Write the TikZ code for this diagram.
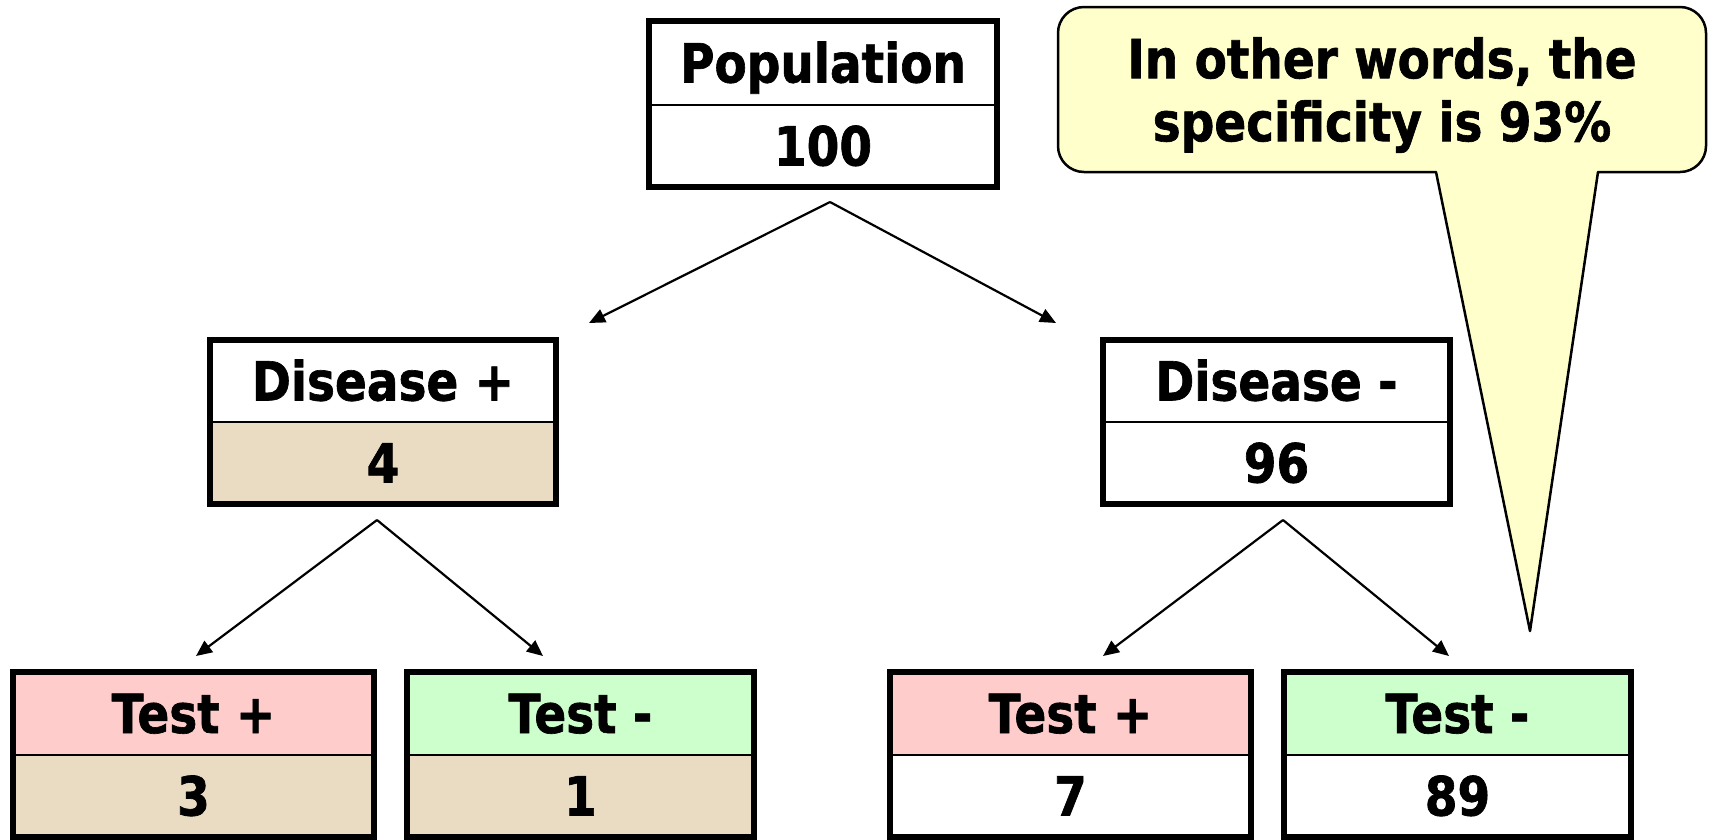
\documentclass[tikz,border=0pt]{standalone}
\usepackage{fontspec}
\newfontfamily\boxfont{DejaVu Sans}[FakeStretch=0.87, FakeBold=1.2]
\usetikzlibrary{arrows.meta}

\definecolor{tanfill}{HTML}{E9DCC3}
\definecolor{pinkfill}{HTML}{FFCCCC}
\definecolor{greenfill}{HTML}{CCFFCC}
\definecolor{notefill}{HTML}{FFFFCC}

\tikzset{
  cell/.style={draw=black, line width=2pt, inner sep=0pt, outer sep=0pt,
    text height=39pt, text depth=0pt,
    font=\boxfont\bfseries\fontsize{54}{63}\selectfont},
  frame/.style={draw=black, line width=5.5pt},
  link/.style={draw=black, line width=2.2pt,
    -{Triangle[length=16pt,width=14pt]}},
  note/.style={draw=black, line width=2.5pt, fill=notefill, line join=round},
  notetext/.style={align=center, inner sep=0pt,
    font=\boxfont\bfseries\fontsize{54}{63}\selectfont}
}

\begin{document}
\begin{tikzpicture}[x=1pt, y=-1pt]
\useasboundingbox (0,0) rectangle (1713,839);

% Population
\node[cell, fill=white, minimum width=348pt, minimum height=84pt] (pop) at (823,63) {Population};
\node[cell, fill=white, minimum width=348pt, minimum height=82pt] (popv) at (823,146) {100};
\draw[frame] (pop.north west) rectangle (popv.south east);

% Disease +
\node[cell, fill=white, minimum width=346pt, minimum height=82pt] (dpos) at (383,381) {Disease +};
\node[cell, fill=tanfill, minimum width=346pt, minimum height=82pt] (dposv) at (383,463) {4};
\draw[frame] (dpos.north west) rectangle (dposv.south east);

% Disease -
\node[cell, fill=white, minimum width=347pt, minimum height=82pt] (dneg) at (1276.5,381) {Disease -};
\node[cell, fill=white, minimum width=347pt, minimum height=82pt] (dnegv) at (1276.5,463) {96};
\draw[frame] (dneg.north west) rectangle (dnegv.south east);

% Tests under Disease +
\node[cell, fill=pinkfill, minimum width=361pt, minimum height=83pt] (tp1) at (193.5,713.5) {Test +};
\node[cell, fill=tanfill, minimum width=361pt, minimum height=82pt] (tp1v) at (193.5,796) {3};
\draw[frame] (tp1.north west) rectangle (tp1v.south east);

\node[cell, fill=greenfill, minimum width=347pt, minimum height=83pt] (tn1) at (580.5,713.5) {Test -};
\node[cell, fill=tanfill, minimum width=347pt, minimum height=82pt] (tn1v) at (580.5,796) {1};
\draw[frame] (tn1.north west) rectangle (tn1v.south east);

% Tests under Disease -
\node[cell, fill=pinkfill, minimum width=361pt, minimum height=83pt] (tp2) at (1070.5,713.5) {Test +};
\node[cell, fill=white, minimum width=361pt, minimum height=82pt] (tp2v) at (1070.5,796) {7};
\draw[frame] (tp2.north west) rectangle (tp2v.south east);

\node[cell, fill=greenfill, minimum width=347pt, minimum height=83pt] (tn2) at (1457.5,713.5) {Test -};
\node[cell, fill=white, minimum width=347pt, minimum height=82pt] (tn2v) at (1457.5,796) {89};
\draw[frame] (tn2.north west) rectangle (tn2v.south east);

% Branch points and arrow targets
\coordinate (popfork) at (830,202);
\coordinate (dposin) at (589,323);
\coordinate (dnegin) at (1056,323);
\coordinate (dposfork) at (377,520);
\coordinate (tp1in) at (196,656);
\coordinate (tn1in) at (543,656);
\coordinate (dnegfork) at (1283,520);
\coordinate (tp2in) at (1103,656);
\coordinate (tn2in) at (1449,656);

\draw[link] (popfork) -- (dposin);
\draw[link] (popfork) -- (dnegin);
\draw[link] (dposfork) -- (tp1in);
\draw[link] (dposfork) -- (tn1in);
\draw[link] (dnegfork) -- (tp2in);
\draw[link] (dnegfork) -- (tn2in);

% Speech bubble with pointer
\coordinate (tip) at (1530,631);
\draw[note] (1436,172) -- (tip) -- (1598,172) -- (1680,172)
  arc (90:0:26) -- (1706,33) arc (0:-90:26) -- (1084,7)
  arc (-90:-180:26) -- (1058,146) arc (180:90:26) -- cycle;
\node[notetext] (remark) at (1382,95) {In other words, the\\specificity is 93\%};
\end{tikzpicture}
\end{document}
